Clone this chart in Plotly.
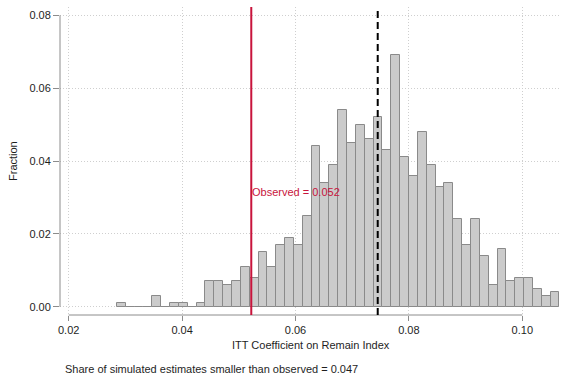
import plotly.graph_objects as go

# ---- data ----
bin_start = 0.028502          # left edge of first bin
bin_width = 0.001561          # width of each bin
fractions = [0.001, 0.000, 0.000, 0.000, 0.003, 0.000, 0.001, 0.001, 0.000, 0.001,
             0.007, 0.007, 0.006, 0.007, 0.011, 0.008, 0.015, 0.011, 0.017, 0.019,
             0.017, 0.025, 0.044, 0.034, 0.039, 0.054, 0.045, 0.050, 0.046, 0.052,
             0.043, 0.069, 0.041, 0.036, 0.048, 0.039, 0.033, 0.034, 0.024, 0.017,
             0.024, 0.014, 0.006, 0.016, 0.007, 0.008, 0.008, 0.005, 0.003, 0.004]
observed = 0.0522
observed_label = "Observed = 0.052"
sim_mean = 0.0745
share_text = "Share of simulated estimates smaller than observed = 0.047"
x_ticks = [0.02, 0.04, 0.06, 0.08, 0.10]
x_tick_labels = ["0.02", "0.04", "0.06", "0.08", "0.10"]
y_ticks = [0.00, 0.02, 0.04, 0.06, 0.08]
y_tick_labels = ["0.00", "0.02", "0.04", "0.06", "0.08"]
x_title = "ITT Coefficient on Remain Index"
y_title = "Fraction"

centers = [bin_start + (i + 0.5) * bin_width for i in range(len(fractions))]

FONT = "Liberation Sans, Arial, Helvetica, sans-serif"
AXIS_GRAY = "#8c8c8c"
GRID = "#cfcfcf"
RED = "#c8143c"
TEXT = "#1e1e1e"

fig = go.Figure()
fig.add_trace(go.Bar(
    x=centers, y=fractions, width=[bin_width] * len(fractions),
    marker=dict(color="#cbcbcb", line=dict(color="#8a8a8a", width=1)),
    hoverinfo="skip", showlegend=False,
))

fig.update_layout(
    width=564, height=377,
    margin=dict(l=60, r=3, t=7, b=62),
    paper_bgcolor="white", plot_bgcolor="white",
    bargap=0,
    font=dict(family=FONT, size=11, color=TEXT),
    xaxis=dict(
        range=[0.018466, 0.106825],
        tickvals=x_ticks, ticktext=x_tick_labels,
        ticks="outside", ticklen=5, tickcolor=AXIS_GRAY, tickwidth=1,
        showgrid=True, gridcolor=GRID, griddash="1px,2px", gridwidth=1,
        zeroline=False, showline=False,
    ),
    yaxis=dict(
        range=[-0.00225, 0.08228],
        tickvals=y_ticks, ticktext=y_tick_labels,
        ticks="outside", ticklen=6, tickcolor=AXIS_GRAY, tickwidth=1,
        showgrid=True, gridcolor=GRID, griddash="1px,2px", gridwidth=1,
        zeroline=False, showline=False,
    ),
    shapes=[
        # y axis line (0 to 0.08)
        dict(type="line", xref="paper", yref="y", x0=0, x1=0, y0=y_ticks[0], y1=y_ticks[-1],
             line=dict(color=AXIS_GRAY, width=1)),
        # x axis line (0.02 to 0.10)
        dict(type="line", xref="x", yref="paper", x0=x_ticks[0], x1=x_ticks[-1], y0=0, y1=0,
             line=dict(color=AXIS_GRAY, width=1)),
        # observed line
        dict(type="line", xref="x", yref="paper", x0=observed, x1=observed, y0=0, y1=1,
             line=dict(color=RED, width=2), layer="above"),
        # mean of simulations (dashed)
        dict(type="line", xref="x", yref="paper", x0=sim_mean, x1=sim_mean, y0=0, y1=0.99,
             line=dict(color="black", width=2, dash="7px,4px"), layer="above"),
    ],
    annotations=[
        dict(x=observed, y=0.0314, xref="x", yref="y", text=observed_label,
             showarrow=False, xanchor="left", yanchor="middle", xshift=-1,
             font=dict(color=RED, size=11, family=FONT)),
        dict(x=0.5, y=-0.0974, xref="paper", yref="paper", text=x_title,
             showarrow=False, xanchor="center", yanchor="middle",
             font=dict(size=11, family=FONT, color=TEXT)),
        dict(x=(63 - 60) / 501, y=-0.175, xref="paper", yref="paper", text=share_text,
             showarrow=False, xanchor="left", yanchor="middle",
             font=dict(size=11, family=FONT, color=TEXT)),
        dict(x=-0.0938, y=0.5, xref="paper", yref="paper", text=y_title, textangle=-90,
             showarrow=False, xanchor="center", yanchor="middle",
             font=dict(size=11, family=FONT, color=TEXT)),
    ],
)

fig.write_html("out.html",
               config={"displayModeBar": False},
               post_script="document.body.style.margin='0';document.body.style.overflow='hidden';")
